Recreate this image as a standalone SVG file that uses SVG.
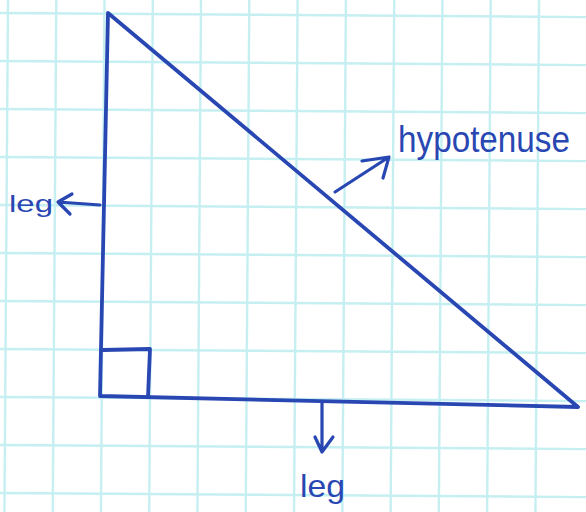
<svg xmlns="http://www.w3.org/2000/svg" width="586" height="512" viewBox="0 0 586 512">
<style>
.grid line{stroke:#c6eff2;stroke-width:2.4}
.ink{fill:none;stroke:#2947b2;stroke-width:3.8;stroke-linecap:round;stroke-linejoin:round}
.arrow{fill:none;stroke:#2947b2;stroke-width:3.2;stroke-linecap:round;stroke-linejoin:round}
.lbl{font-family:"Liberation Sans",Arial,sans-serif;fill:#2947b2}
</style>
<rect width="586" height="512" fill="#ffffff"/>
<g class="grid" transform="rotate(0.4)">
<line x1="8" y1="-20" x2="8" y2="540"/>
<line x1="56.3" y1="-20" x2="56.3" y2="540"/>
<line x1="104.5" y1="-20" x2="104.5" y2="540"/>
<line x1="152.8" y1="-20" x2="152.8" y2="540"/>
<line x1="201" y1="-20" x2="201" y2="540"/>
<line x1="249.3" y1="-20" x2="249.3" y2="540"/>
<line x1="297.6" y1="-20" x2="297.6" y2="540"/>
<line x1="345.9" y1="-20" x2="345.9" y2="540"/>
<line x1="394.2" y1="-20" x2="394.2" y2="540"/>
<line x1="442.4" y1="-20" x2="442.4" y2="540"/>
<line x1="490.7" y1="-20" x2="490.7" y2="540"/>
<line x1="539" y1="-20" x2="539" y2="540"/>
<line x1="-20" y1="13" x2="620" y2="13"/>
<line x1="-20" y1="61" x2="620" y2="61"/>
<line x1="-20" y1="109" x2="620" y2="109"/>
<line x1="-20" y1="157" x2="620" y2="157"/>
<line x1="-20" y1="205" x2="620" y2="205"/>
<line x1="-20" y1="253" x2="620" y2="253"/>
<line x1="-20" y1="301" x2="620" y2="301"/>
<line x1="-20" y1="349" x2="620" y2="349"/>
<line x1="-20" y1="397" x2="620" y2="397"/>
<line x1="-20" y1="445" x2="620" y2="445"/>
<line x1="-20" y1="493" x2="620" y2="493"/>
</g>
<g id="triangle">
<path class="ink" d="M100,396 L108,13 L578,407 L100,396 Z"/>
<path class="ink" d="M103,350 L150,349 L148,397"/>
</g>
<g id="connectors">
<path class="arrow" d="M100,205 L58,202 M72,194 L58,202 L70,214"/>
<path class="arrow" d="M335,192 L389,157 M362,161 L389,157 L383,178"/>
<path class="arrow" d="M322,402 L322,452 M315,437 L322,452 L333,437"/>
</g>
<g id="label-leg-left">
<text class="lbl" x="9" y="212" font-size="24" textLength="44" lengthAdjust="spacingAndGlyphs">leg</text>
</g>
<g id="label-hypotenuse">
<text class="lbl" x="398" y="152" font-size="36" textLength="172" lengthAdjust="spacingAndGlyphs">hypotenuse</text>
</g>
<g id="label-leg-bottom">
<text class="lbl" x="300" y="497" font-size="32" textLength="45" lengthAdjust="spacingAndGlyphs">leg</text>
</g>
</svg>
